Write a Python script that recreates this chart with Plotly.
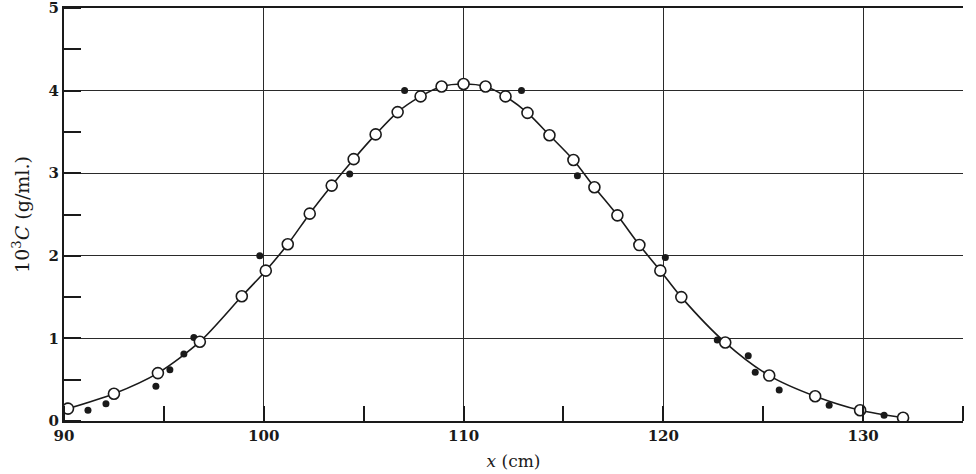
import plotly.graph_objects as go

# Open circles (lie on the smooth curve)
open_x = [90.2, 92.5, 94.7, 96.8, 98.9, 100.1, 101.2, 102.3, 103.4, 104.5, 105.6, 106.7,
          107.85, 108.9, 110.0, 111.1, 112.1, 113.2, 114.3, 115.5, 116.55, 117.7, 118.8,
          119.85, 120.9, 123.1, 125.3, 127.6, 129.85, 132.0]
open_y = [0.15, 0.33, 0.58, 0.96, 1.51, 1.82, 2.14, 2.51, 2.85, 3.17, 3.47, 3.74,
          3.93, 4.05, 4.08, 4.05, 3.93, 3.73, 3.46, 3.16, 2.83, 2.49, 2.13,
          1.82, 1.50, 0.95, 0.55, 0.30, 0.13, 0.04]

# Filled dots (scattered measurements)
dot_x = [91.2, 92.1, 94.6, 95.3, 96.0, 96.5, 99.8, 104.3, 107.05, 112.9, 115.7, 120.1,
         122.7, 124.25, 124.6, 125.8, 128.3, 131.05]
dot_y = [0.13, 0.21, 0.42, 0.62, 0.81, 1.01, 2.00, 2.99, 4.00, 4.00, 2.97, 1.98,
         0.98, 0.79, 0.59, 0.375, 0.19, 0.07]

x_ticks = [90, 100, 110, 120, 130]
y_ticks = [0, 1, 2, 3, 4, 5]

FONT = "DejaVu Serif"
INK = "#1a1a1a"

fig = go.Figure()
fig.add_trace(go.Scatter(
    x=open_x, y=open_y, mode="lines",
    line=dict(color=INK, width=1.6, shape="spline", smoothing=0.8),
    hoverinfo="skip", showlegend=False))
fig.add_trace(go.Scatter(
    x=dot_x, y=dot_y, mode="markers",
    marker=dict(color=INK, size=7, line=dict(width=0)),
    showlegend=False))
fig.add_trace(go.Scatter(
    x=open_x, y=open_y, mode="markers",
    marker=dict(color="white", size=11, line=dict(color=INK, width=1.6)),
    showlegend=False))

fig.update_layout(
    width=976, height=474,
    margin=dict(l=64, r=13, t=8, b=53),
    paper_bgcolor="white", plot_bgcolor="white",
    font=dict(family=FONT, color=INK),
    xaxis=dict(
        range=[90, 135], tickvals=x_ticks, ticktext=[str(v) for v in x_ticks],
        automargin=False, ticklabeloverflow="allow",
        showgrid=True, gridcolor="#2a2a2a", gridwidth=1.4,
        showline=True, linecolor=INK, linewidth=2, mirror=True,
        ticks="", zeroline=False,
        tickfont=dict(family=FONT, size=15, color=INK, weight="bold"),
        minor=dict(dtick=5, tick0=90, ticks="inside", ticklen=15, tickwidth=1.6,
                   tickcolor=INK, showgrid=False),
        title=dict(text="<i>x</i> (cm)", font=dict(family=FONT, size=17, color=INK),
                   standoff=11),
    ),
    yaxis=dict(
        range=[0, 5], tickvals=y_ticks, ticktext=[str(v) for v in y_ticks],
        automargin=False, ticklabeloverflow="allow",
        showgrid=True, gridcolor="#2a2a2a", gridwidth=1.4,
        showline=True, linecolor=INK, linewidth=2, mirror=False,
        ticks="", zeroline=False,
        tickfont=dict(family=FONT, size=15, color=INK, weight="bold"),
        minor=dict(dtick=0.5, tick0=0, ticks="inside", ticklen=17, tickwidth=1.6,
                   tickcolor=INK, showgrid=False),
        title=dict(text="10<sup>3</sup><i>C</i> (g/ml.)",
                   font=dict(family=FONT, size=19, color=INK), standoff=14),
    ),
)

fig.write_html("out.html")
